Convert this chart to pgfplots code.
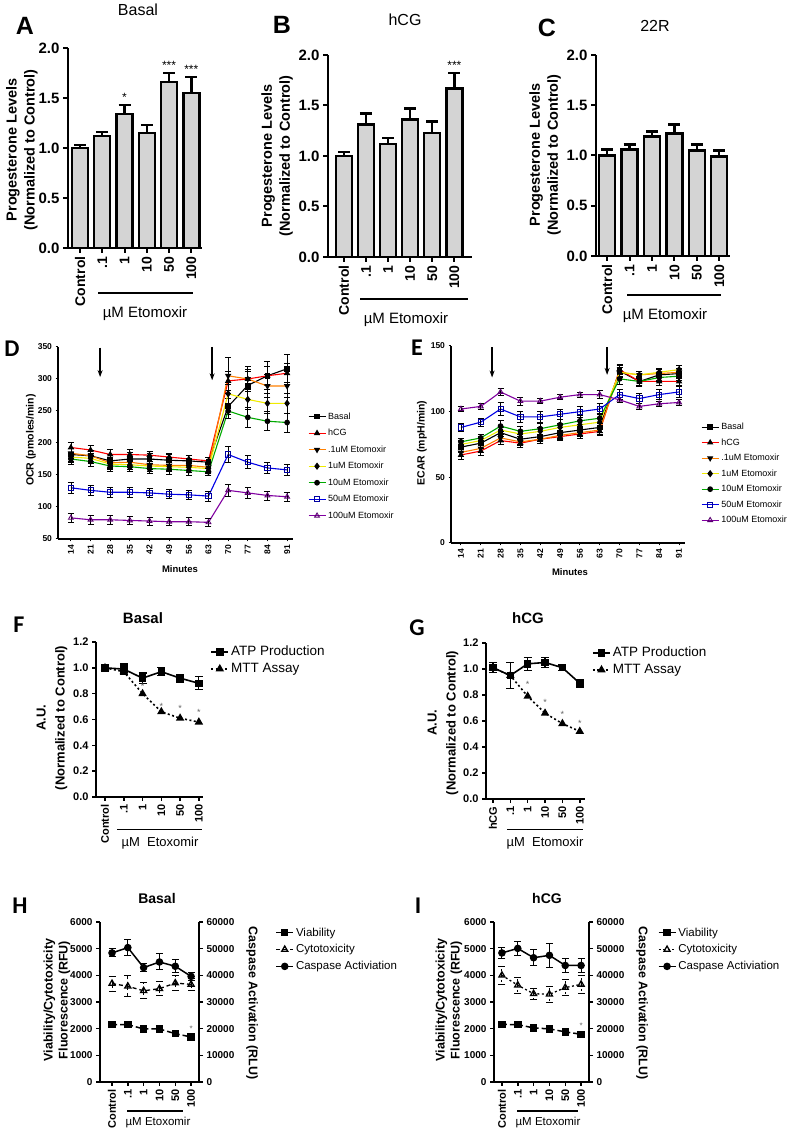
\documentclass[border=0pt]{standalone}
\usepackage{fontspec}
\setmainfont{Liberation Sans}
\newfontfamily\carl{Carlito}
\usepackage{pgfplots}
\pgfplotsset{compat=1.18}
\usetikzlibrary{arrows.meta}

\definecolor{barg}{gray}{0.83}
\definecolor{orng}{RGB}{255,128,0}
\definecolor{yel}{RGB}{240,235,0}
\definecolor{grn}{RGB}{0,170,0}
\definecolor{blu}{RGB}{0,0,230}
\definecolor{pur}{RGB}{128,0,160}
\newcommand{\fs}[1]{\fontsize{#1}{#1}\selectfont}

\pgfplotsset{
 prism/.style={scale only axis, clip=false, anchor=south west,
   axis x line=bottom, axis y line=left,
   axis line style={-, line width=1.5pt, black},
   tick style={black, line width=1.5pt}, tick align=outside,
   major tick length=4pt, scaled y ticks=false, scaled x ticks=false},
 barp/.style={prism, xtick={0,...,5}, xticklabels={Control,.1,1,10,50,100},
   axis line style={line width=2.3pt}, tick style={line width=2pt}, major tick length=5pt,
   ymin=0, ymax=2, ytick={0,0.5,1,1.5,2}, yticklabels={0.0,0.5,1.0,1.5,2.0},
   x tick label style={rotate=90, anchor=east, font=\fs{14}\bfseries},
   y tick label style={font=\fs{15}\bfseries}},
 thebar/.style={ybar, bar width=16pt, fill=barg, draw=black, line width=2.4pt,
   error bars/y dir=plus, error bars/y explicit,
   error bars/error bar style={line width=2.4pt, black},
   error bars/error mark options={rotate=90, line width=2.4pt, mark size=6pt, black}},
 stars/.style={draw=none, mark=none, nodes near coords, point meta=explicit symbolic,
   nodes near coords style={anchor=south, font=#1, inner sep=1pt}},
 ser/.style={color=#1, line width=1.1pt,
   error bars/y dir=both, error bars/y explicit,
   error bars/error bar style={black, line width=0.8pt},
   error bars/error mark options={rotate=90, black, line width=0.8pt, mark size=3pt}},
 tsline/.style={prism, xmin=9.4, xmax=93.1,
   xtick={14,21,28,35,42,49,56,63,70,77,84,91},
   xticklabels={14,21,28,35,42,49,56,63,70,77,84,91},
   x tick label style={rotate=90, anchor=east, font=\fs{8.5}\bfseries},
   y tick label style={font=\fs{8.5}\bfseries},
   major tick length=2.5pt, axis line style={line width=1.4pt}, tick style={line width=1pt},
   legend style={draw=none, fill=none, font=\fs{9}, row sep=4.5pt, cells={anchor=west}}},
 fgp/.style={prism, ymin=0, ymax=1.2, xtick={0,...,5},
   ytick={0,0.2,0.4,0.6,0.8,1.0,1.2}, yticklabels={0.0,0.2,0.4,0.6,0.8,1.0,1.2},
   x tick label style={rotate=90, anchor=east, font=\fs{11}\bfseries},
   y tick label style={font=\fs{11}\bfseries},
   legend style={at={(1.04,1.0)}, anchor=north west, draw=none, fill=none,
     font=\fs{13.5}, row sep=2pt, cells={anchor=west}}},
 atp/.style={black, line width=1.6pt, mark=square*, mark size=3pt, mark options={solid},
   error bars/y dir=both, error bars/y explicit,
   error bars/error bar style={black, line width=1.2pt},
   error bars/error mark options={rotate=90, black, line width=1.2pt, mark size=4pt}},
 mtt/.style={black, line width=1.6pt, dash pattern=on 2pt off 2.5pt, mark=triangle*, mark size=3.3pt, mark options={solid}},
 hileft/.style={prism, ymin=0, ymax=6000, xtick={0,...,5}, xticklabels={Control,.1,1,10,50,100},
   ytick={0,1000,2000,3000,4000,5000,6000}, yticklabels={0,1000,2000,3000,4000,5000,6000},
   x tick label style={rotate=90, anchor=east, font=\fs{11}\bfseries},
   y tick label style={font=\fs{10}\bfseries}},
 hiright/.style={scale only axis, clip=false, anchor=south west, ymin=0, ymax=60000,
   axis y line=right, axis x line=none, axis line style={-, line width=1.5pt, black},
   tick style={black, line width=1.5pt}, tick align=outside, major tick length=4pt,
   scaled y ticks=false, ytick={0,10000,20000,30000,40000,50000,60000},
   yticklabels={0,10000,20000,30000,40000,50000,60000},
   y tick label style={font=\fs{10}\bfseries},
   legend style={draw=none, fill=none, font=\fs{11.5}, row sep=3pt, cells={anchor=west}}},
 viab/.style={black, line width=1.5pt, dash pattern=on 5pt off 3pt, mark=square*, mark size=3pt, mark options={solid},
   error bars/y dir=both, error bars/y explicit,
   error bars/error bar style={black, line width=1pt},
   error bars/error mark options={rotate=90, black, line width=1pt, mark size=3.5pt}},
 cyto/.style={black, line width=1.3pt, dash pattern=#1, mark=triangle, mark size=3.5pt, mark options={solid, fill=white},
   error bars/y dir=both, error bars/y explicit,
   error bars/error bar style={black, line width=1pt},
   error bars/error mark options={rotate=90, black, line width=1pt, mark size=3.5pt}},
 casp/.style={black, line width=1.5pt, mark=*, mark size=3pt, mark options={solid},
   error bars/y dir=both, error bars/y explicit,
   error bars/error bar style={black, line width=1pt},
   error bars/error mark options={rotate=90, black, line width=1pt, mark size=3.5pt}},
}

\begin{document}
\begin{tikzpicture}
\path[use as bounding box] (0pt,0pt) rectangle (792pt,1131pt);

% ================= A =================
\begin{axis}[barp, at={(68pt,883pt)}, width=134pt, height=200pt, xmin=-0.54, xmax=5.48]
\addplot[thebar] table[x=x,y=y,y error=e] {
x y e
0 1.00 0.03
1 1.12 0.04
2 1.34 0.09
3 1.15 0.08
4 1.66 0.09
5 1.55 0.16
};
\addplot[stars={\fs{12}}] table[x=x,y=y,meta=s] {
x y s
2 1.45 *
4 1.77 ***
5 1.73 ***
};
\end{axis}
\node[font=\fs{16}] at (138pt,1121pt) {Basal};
\node[font=\fs{25}\bfseries] at (25pt,1105pt) {A};
\node[rotate=90, align=center, font=\fontsize{14.5}{18}\selectfont\bfseries] at (22pt,981pt) {Progesterone Levels\\(Normalized to Control)};
\draw[line width=2.2pt] (98pt,838pt) -- (193pt,838pt);
\node[font=\fs{15}] at (145pt,817pt) {µM Etomoxir};

% ================= B =================
\begin{axis}[barp, at={(328pt,874pt)}, width=144pt, height=202pt, xmin=-0.72, xmax=5.8]
\addplot[thebar] table[x=x,y=y,y error=e] {
x y e
0 1.00 0.04
1 1.31 0.11
2 1.12 0.06
3 1.36 0.11
4 1.23 0.11
5 1.67 0.15
};
\addplot[stars={\fs{12}}] table[x=x,y=y,meta=s] {
x y s
5 1.84 ***
};
\end{axis}
\node[font=\fs{16}] at (405pt,1111pt) {hCG};
\node[font=\fs{25}\bfseries] at (282pt,1106pt) {B};
\node[rotate=90, align=center, font=\fontsize{14.5}{18}\selectfont\bfseries] at (277pt,975pt) {Progesterone Levels\\(Normalized to Control)};
\draw[line width=2.2pt] (360pt,832pt) -- (468pt,832pt);
\node[font=\fs{15}] at (406pt,811pt) {µM Etomoxir};

% ================= C =================
\begin{axis}[barp, at={(596pt,875pt)}, width=134pt, height=201pt, xmin=-0.5, xmax=5.48]
\addplot[thebar] table[x=x,y=y,y error=e] {
x y e
0 1.00 0.06
1 1.06 0.05
2 1.19 0.05
3 1.22 0.09
4 1.05 0.06
5 0.99 0.06
};
\end{axis}
\node[font=\fs{16}] at (655pt,1105pt) {22R};
\node[font=\fs{25}\bfseries] at (547pt,1103pt) {C};
\node[rotate=90, align=center, font=\fontsize{14.5}{18}\selectfont\bfseries] at (545pt,976pt) {Progesterone Levels\\(Normalized to Control)};
\draw[line width=2.2pt] (627pt,836pt) -- (721pt,836pt);
\node[font=\fs{15}] at (665pt,815pt) {µM Etomoxir};

% ================= D =================
\begin{axis}[tsline, at={(58pt,592pt)}, width=235pt, height=192pt, ymin=50, ymax=350,
  ytick={50,100,150,200,250,300,350}, yticklabels={50,100,150,200,250,300,350},
  legend style={at={(1.05,0.68)}, anchor=north west}]
\addplot[ser=black, mark=square*, mark size=2.3pt, mark options={solid,black,fill=black}] table[x index=0,y index=1,y error index=2] {
14 182 10
21 180 9
28 172 10
35 175 10
42 175 9
49 173 9
56 172 8
63 170 8
70 257 12
77 290 22
84 305 22
91 316 22
};
\addlegendentry{Basal}
\addplot[ser=red, mark=triangle*, mark size=2.6pt, mark options={solid,black,fill=black}] table[x index=0,y index=1,y error index=2] {
14 193 8
21 189 8
28 182 8
35 182 8
42 181 6
49 178 6
56 175 6
63 172 6
70 297 15
77 300 15
84 305 15
91 309 15
};
\addlegendentry{hCG}
\addplot[ser=orng, mark=triangle*, mark size=2.6pt, mark options={solid,black,fill=black,rotate=180}] table[x index=0,y index=1,y error index=2] {
14 184 8
21 180 8
28 169 8
35 170 8
42 166 8
49 165 8
56 165 8
63 162 8
70 305 28
77 300 20
84 289 18
91 289 18
};
\addlegendentry{.1uM Etomoxir}
\addplot[ser=yel, mark=diamond*, mark size=2.8pt, mark options={solid,black,fill=black}] table[x index=0,y index=1,y error index=2] {
14 178 8
21 176 8
28 167 8
35 166 8
42 164 8
49 163 8
56 162 8
63 160 8
70 277 15
77 268 15
84 262 15
91 262 15
};
\addlegendentry{1uM Etomoxir}
\addplot[ser=grn, mark=*, mark size=2.3pt, mark options={solid,black,fill=black}] table[x index=0,y index=1,y error index=2] {
14 175 8
21 171 8
28 164 8
35 163 8
42 160 8
49 159 8
56 157 8
63 155 6
70 250 12
77 240 15
84 234 15
91 232 15
};
\addlegendentry{10uM Etomoxir}
\addplot[ser=blu, mark=square, mark size=2.6pt, mark options={solid,blu!70!black,fill=white,line width=0.9pt}] table[x index=0,y index=1,y error index=2] {
14 130 8
21 126 8
28 123 8
35 123 8
42 122 7
49 120 7
56 119 7
63 117 8
70 182 13
77 170 10
84 161 9
91 158 8
};
\addlegendentry{50uM Etomoxir}
\addplot[ser=pur, mark=triangle, mark size=2.8pt, mark options={solid,pur!70!black,fill=white,line width=0.9pt}] table[x index=0,y index=1,y error index=2] {
14 83 7
21 80 7
28 80 7
35 79 6
42 78 6
49 77 6
56 77 6
63 76 6
70 126 10
77 122 8
84 118 7
91 116 7
};
\addlegendentry{100uM Etomoxir}
\draw[-{Stealth[length=7pt,width=5pt]}, line width=1.3pt] (axis cs:24.4,349) -- (axis cs:24.4,303);
\draw[-{Stealth[length=7pt,width=5pt]}, line width=1.3pt] (axis cs:64.3,350) -- (axis cs:64.3,298);
\end{axis}
\node[font=\fs{24}\bfseries\carl] at (12pt,782pt) {D};
\node[rotate=90, font=\fs{10.5}\bfseries] at (31pt,691pt) {OCR (pmoles/min)};
\node[font=\fs{9.5}\bfseries] at (180pt,562pt) {Minutes};

% ================= E =================
\begin{axis}[tsline, at={(451pt,588pt)}, width=234pt, height=197pt, xmin=10.5, ymin=0, ymax=150,
  ytick={0,50,100,150}, yticklabels={0,50,100,150},
  legend style={at={(1.055,0.63)}, anchor=north west, row sep=3.5pt}]
\addplot[ser=black, mark=square*, mark size=2.3pt, mark options={solid,black,fill=black}] table[x index=0,y index=1,y error index=2] {
14 73 4
21 76 4
28 84 4
35 79 4
42 81 4
49 84 4
56 86 4
63 88 4
70 131 4
77 123 4
84 128 4
91 129 4
};
\addlegendentry{Basal}
\addplot[ser=red, mark=triangle*, mark size=2.6pt, mark options={solid,black,fill=black}] table[x index=0,y index=1,y error index=2] {
14 67 3
21 70 3
28 78 3
35 76 3
42 79 3
49 81 3
56 83 3
63 85 3
70 132 4
77 123 3
84 123 3
91 123 3
};
\addlegendentry{hCG}
\addplot[ser=orng, mark=triangle*, mark size=2.6pt, mark options={solid,black,fill=black,rotate=180}] table[x index=0,y index=1,y error index=2] {
14 69 3
21 72 3
28 80 3
35 77 3
42 79 3
49 82 3
56 84 3
63 86 3
70 130 4
77 128 3
84 129 3
91 130 3
};
\addlegendentry{.1uM Etomoxir}
\addplot[ser=yel, mark=diamond*, mark size=2.8pt, mark options={solid,black,fill=black}] table[x index=0,y index=1,y error index=2] {
14 75 3
21 78 3
28 86 3
35 83 3
42 85 3
49 88 3
56 90 3
63 92 3
70 130 4
77 128 3
84 130 3
91 132 3
};
\addlegendentry{1uM Etomoxir}
\addplot[ser=grn, mark=*, mark size=2.3pt, mark options={solid,black,fill=black}] table[x index=0,y index=1,y error index=2] {
14 77 3
21 80 3
28 89 4
35 85 4
42 87 4
49 90 4
56 93 4
63 95 4
70 125 4
77 123 3
84 126 3
91 127 3
};
\addlegendentry{10uM Etomoxir}
\addplot[ser=blu, mark=square, mark size=2.6pt, mark options={solid,blu!70!black,fill=white,line width=0.9pt}] table[x index=0,y index=1,y error index=2] {
14 88 3
21 92 3
28 102 5
35 96 4
42 96 4
49 98 4
56 100 4
63 102 4
70 113 4
77 110 4
84 113 4
91 115 4
};
\addlegendentry{50uM Etomoxir}
\addplot[ser=pur, mark=triangle, mark size=2.8pt, mark options={solid,pur!70!black,fill=white,line width=0.9pt}] table[x index=0,y index=1,y error index=2] {
14 102 2
21 104 2
28 115 3
35 108 3
42 108 2
49 111 2
56 113 2
63 113 3
70 109 2
77 104 2
84 106 2
91 107 2
};
\addlegendentry{100uM Etomoxir}
\draw[-{Stealth[length=7pt,width=5pt]}, line width=1.3pt] (axis cs:25,149) -- (axis cs:25,126);
\draw[-{Stealth[length=7pt,width=5pt]}, line width=1.3pt] (axis cs:65.6,149) -- (axis cs:65.6,128);
\end{axis}
\node[font=\fs{24}\bfseries\carl] at (417pt,783pt) {E};
\node[rotate=90, font=\fs{10.5}\bfseries] at (422pt,688pt) {ECAR (mpH/min)};
\node[font=\fs{9.5}\bfseries] at (570pt,559pt) {Minutes};

% ================= F =================
\begin{axis}[fgp, at={(96pt,334pt)}, width=107pt, height=155pt, xmin=-0.48, xmax=5.22,
  xticklabels={Control,.1,1,10,50,100}]
\addplot[atp] table[x index=0,y index=1,y error index=2] {
0 1.00 0.02
1 0.99 0.04
2 0.92 0.04
3 0.97 0.03
4 0.92 0.03
5 0.88 0.05
};
\addlegendentry{ATP Production}
\addplot[mtt] table[x index=0,y index=1] {
0 1.00
1 0.97
2 0.80
3 0.66
4 0.61
5 0.58
};
\addlegendentry{MTT Assay}
\addplot[stars={\fs{9}\color{black!60}}] table[x=x,y=y,meta=s] {
x y s
2 0.82 *
3 0.67 *
4 0.65 *
5 0.62 *
};
\end{axis}
\node[font=\fs{15}\bfseries] at (143pt,513pt) {Basal};
\node[font=\fs{24}\bfseries\carl] at (19pt,506pt) {F};
\node[rotate=90, align=center, font=\fontsize{13}{19}\selectfont\bfseries] at (52pt,413pt) {A.U.\\(Normalized to Control)};
\draw[line width=1pt] (117pt,301pt) -- (202pt,301pt);
\node[font=\fs{13}] at (160pt,288pt) {µM\ \ Etoxomir};

% ================= G =================
\begin{axis}[fgp, at={(486pt,332pt)}, width=99pt, height=156pt, xmin=-0.4, xmax=5.3,
  xticklabels={hCG,.1,1,10,50,100}]
\addplot[atp] table[x index=0,y index=1,y error index=2] {
0 1.01 0.04
1 0.95 0.10
2 1.04 0.05
3 1.05 0.04
4 1.01 0.02
5 0.89 0.03
};
\addlegendentry{ATP Production}
\addplot[mtt] table[x index=0,y index=1] {
0 1.01
1 0.95
2 0.79
3 0.66
4 0.58
5 0.52
};
\addlegendentry{MTT Assay}
\addplot[stars={\fs{9}\color{black!60}}] table[x=x,y=y,meta=s] {
x y s
2 0.85 *
3 0.71 *
4 0.62 *
5 0.55 *
};
\end{axis}
\node[font=\fs{15}\bfseries] at (528pt,513pt) {hCG};
\node[font=\fs{24}\bfseries\carl] at (417pt,503pt) {G};
\node[rotate=90, align=center, font=\fontsize{13}{19}\selectfont\bfseries] at (443pt,408pt) {A.U.\\(Normalized to Control)};
\draw[line width=1pt] (507pt,301pt) -- (583pt,301pt);
\node[font=\fs{13}] at (545pt,288pt) {µM\ \ Etomoxir};

% ================= H =================
\begin{axis}[hileft, at={(100pt,49pt)}, width=99pt, height=160pt, xmin=-0.76, xmax=5.5]
\addplot[viab] table[x index=0,y index=1,y error index=2] {
0 2150 60
1 2150 60
2 1990 50
3 1990 50
4 1810 50
5 1690 50
};
\addplot[cyto={on 4pt off 3pt}] table[x index=0,y index=1,y error index=2] {
0 3690 280
1 3590 400
2 3420 300
3 3500 250
4 3710 280
5 3660 220
};
\addplot[stars={\fs{8}\color{black!60}}] table[x=x,y=y,meta=s] {
x y s
5 1850 *
};
\end{axis}
\begin{axis}[hiright, at={(100pt,49pt)}, width=99pt, height=160pt, xmin=-0.76, xmax=5.5,
  legend style={at={(1.74,0.99)}, anchor=north west}]
\addlegendimage{viab, dash pattern=}
\addlegendentry{Viability}
\addlegendimage{cyto={on 4pt off 3pt}}
\addlegendentry{Cytotoxicity}
\addplot[casp] table[x index=0,y index=1,y error index=2] {
0 48400 1500
1 50400 3000
2 42900 1500
3 45000 3000
4 43400 2500
5 39600 1500
};
\addlegendentry{Caspase Activiation}
\end{axis}
\node[font=\fs{14}\bfseries] at (157pt,233pt) {Basal};
\node[font=\fs{24}\bfseries\carl] at (20pt,225pt) {H};
\node[rotate=90, align=center, font=\fontsize{12.5}{15}\selectfont\bfseries] at (57pt,131pt) {Viability/Cytotoxicity\\Fluorescence (RFU)};
\node[rotate=-90, font=\fs{12.5}\bfseries] at (252pt,128pt) {Caspase Activation (RLU)};
\draw[line width=1.5pt] (127pt,20pt) -- (183pt,20pt);
\node[font=\fs{11.5}] at (158pt,8pt) {µM Etoxomir};

% ================= I =================
\begin{axis}[hileft, at={(494pt,49pt)}, width=95pt, height=160pt, xmin=-0.5, xmax=5.5]
\addplot[viab] table[x index=0,y index=1,y error index=2] {
0 2160 60
1 2150 60
2 2030 50
3 1990 50
4 1880 50
5 1790 50
};
\addplot[cyto={on 2pt off 2.5pt}] table[x index=0,y index=1,y error index=2] {
0 4000 340
1 3630 300
2 3310 200
3 3290 300
4 3540 300
5 3660 350
};
\addplot[stars={\fs{8}\color{black!60}}] table[x=x,y=y,meta=s] {
x y s
5 1960 *
};
\end{axis}
\begin{axis}[hiright, at={(494pt,49pt)}, width=95pt, height=160pt, xmin=-0.5, xmax=5.5,
  legend style={at={(1.69,0.99)}, anchor=north west}]
\addlegendimage{viab, dash pattern=}
\addlegendentry{Viability}
\addlegendimage{cyto={on 2pt off 2.5pt}}
\addlegendentry{Cytotoxicity}
\addplot[casp] table[x index=0,y index=1,y error index=2] {
0 48400 2000
1 50100 2500
2 46600 3000
3 47500 4500
4 43700 2500
5 43700 2500
};
\addlegendentry{Caspase Activiation}
\end{axis}
\node[font=\fs{14}\bfseries] at (547pt,233pt) {hCG};
\node[font=\fs{24}\bfseries\carl] at (418pt,225pt) {I};
\node[rotate=90, align=center, font=\fontsize{12.5}{15}\selectfont\bfseries] at (449pt,131pt) {Viability/Cytotoxicity\\Fluorescence (RFU)};
\node[rotate=-90, font=\fs{12.5}\bfseries] at (642pt,128pt) {Caspase Activation (RLU)};
\draw[line width=1.5pt] (517pt,20pt) -- (578pt,20pt);
\node[font=\fs{11.5}] at (548pt,8pt) {µM Etoxomir};

\end{tikzpicture}
\end{document}
